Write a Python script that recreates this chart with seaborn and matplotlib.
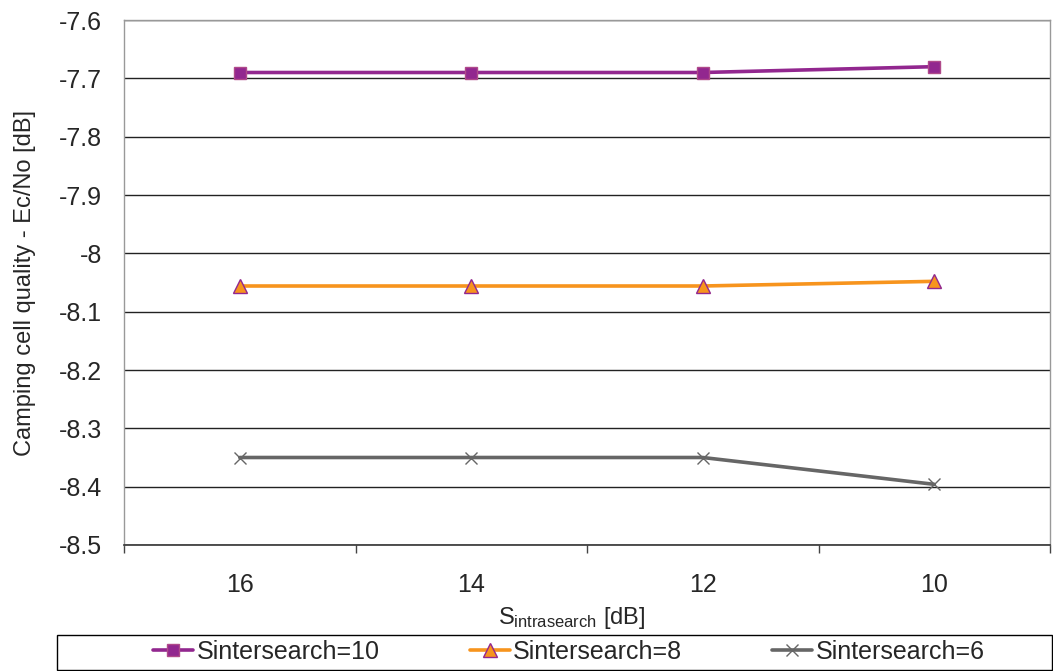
import matplotlib
matplotlib.use("Agg")
import matplotlib.pyplot as plt
from matplotlib.patches import Rectangle
import seaborn as sns
import pandas as pd
import numpy as np

categories = ["16", "14", "12", "10"]
s10 = [-7.69, -7.69, -7.69, -7.68]
s8 = [-8.056, -8.056, -8.056, -8.048]
s6 = [-8.35, -8.35, -8.35, -8.396]
series_names = ["Sintersearch=10", "Sintersearch=8", "Sintersearch=6"]
yticks = [-7.6, -7.7, -7.8, -7.9, -8.0, -8.1, -8.2, -8.3, -8.4, -8.5]
ytick_labels = ["-7.6", "-7.7", "-7.8", "-7.9", "-8", "-8.1", "-8.2", "-8.3", "-8.4", "-8.5"]

sns.set_theme(style="white")
plt.rcParams['font.family'] = ['Liberation Sans', 'DejaVu Sans']
plt.rcParams['mathtext.fontset'] = 'custom'
plt.rcParams['mathtext.rm'] = 'Liberation Sans'
plt.rcParams['mathtext.default'] = 'regular'

fig = plt.figure(figsize=(10.53, 6.71), dpi=100)
ax = fig.add_axes([124/1053, 1-545/671, 926/1053, 525/671])

xpos = np.arange(len(categories))
styles = [
    dict(color="#92278F", marker="s", mfc="#92278F", mec="#B04A8A", ms=9, mew=1.0),
    dict(color="#F7941D", marker="^", mfc="#F7941D", mec="#92278F", ms=9.5, mew=1.0),
    dict(color="#666666", marker="x", mfc="#666666", mec="#666666", ms=8, mew=1.0),
]
for name, vals, st in zip(series_names, [s10, s8, s6], styles):
    df = pd.DataFrame({"x": xpos, "y": vals})
    sns.lineplot(data=df, x="x", y="y", ax=ax, color=st["color"], linewidth=2.6,
                 marker=st["marker"], markersize=st["ms"], markerfacecolor=st["mfc"],
                 markeredgecolor=st["mec"], markeredgewidth=st["mew"], label=name, legend=False)

ax.set_xlim(-0.5, len(categories) - 0.5)
ax.set_ylim(-8.5, -7.6)
ax.set_yticks(yticks)
ax.set_yticklabels(ytick_labels, fontsize=18)
ax.set_xticks(xpos)
ax.set_xticklabels(categories, fontsize=18)
ax.set_xticks(np.arange(-0.5, len(categories)), minor=True)
ax.tick_params(axis="x", which="major", length=0, pad=20)
ax.tick_params(axis="x", which="minor", length=6, direction="out", color="#444444", bottom=True)
ax.tick_params(axis="y", length=0, pad=16)
ax.grid(axis="y", color="#222222", linewidth=1.0)
ax.set_axisbelow(True)
for s in ["top", "left", "right"]:
    ax.spines[s].set_color("#999999")
    ax.spines[s].set_linewidth(1.0)
ax.spines["bottom"].set_color("#333333")
ax.spines["bottom"].set_linewidth(1.2)

ax.set_xlabel(r"S$_{\mathregular{intrasearch}}$ [dB]", fontsize=17, labelpad=4)
ax.xaxis.set_label_coords((572 - 124) / 926, -0.115)
ax.set_ylabel("Camping cell quality - Ec/No [dB]", fontsize=17, labelpad=16)

handles, labels = ax.get_legend_handles_labels()
leg = fig.legend(handles, labels, loc="center", ncol=3,
                 bbox_to_anchor=(569/1053, 1 - 652/671),
                 fontsize=18, frameon=False, handlelength=1.6,
                 handletextpad=0.15, columnspacing=3.6, borderpad=0, borderaxespad=0)
fig.patches.append(Rectangle((57/1053, 1/671), 995/1053, 35/671, transform=fig.transFigure,
                             fill=False, edgecolor="#000000", linewidth=1.0))

fig.savefig("out.png", dpi=100)
